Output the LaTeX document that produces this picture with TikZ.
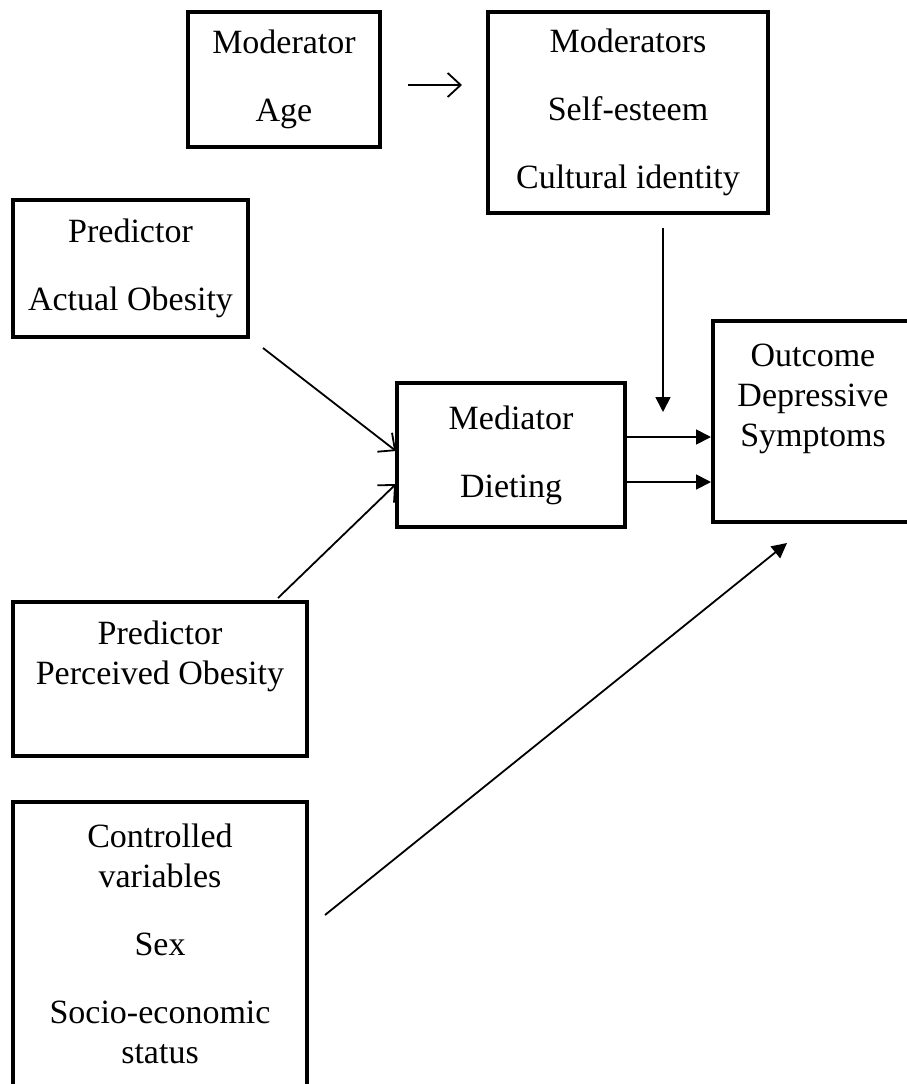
\documentclass[tikz,border=0pt]{standalone}
\usepackage{fontspec}
\setmainfont{Liberation Serif}
\usetikzlibrary{arrows.meta}
\begin{document}
\begin{tikzpicture}[x=1pt, y=-1pt, line join=miter, >={Triangle[length=15pt,width=15pt]},
	box/.style={draw, line width=4pt, align=center, inner sep=0pt, font=\fontsize{34}{40}\selectfont},
	link/.style={line width=1.8pt},
	barb/.style={line width=1.8pt, -{Straight Barb[length=13pt,width=24pt,line width=1.8pt]}}]
	\useasboundingbox (0,0) rectangle (907,1084);
	% Cac hop
	\node[box, minimum width=192pt, minimum height=135pt] (age) at (284,79.5) {Moderator\\[28pt]Age};
	\node[box, minimum width=280pt, minimum height=201pt] (mods) at (628,112.5) {Moderators\\[28pt]Self-esteem\\[28pt]Cultural identity};
	\node[box, minimum width=235pt, minimum height=137pt] (actual) at (130.5,268.5) {Predictor\\[28pt]Actual Obesity};
	\node[box, minimum width=228pt, minimum height=144pt] (med) at (511,455) {Mediator\\[28pt]Dieting};
	\node[box, minimum width=200pt, minimum height=201pt] (outcome) at (813,421.5) {Outcome\\Depressive\\Symptoms\\\strut};
	\node[box, minimum width=294pt, minimum height=154pt] (perceived) at (160,679) {Predictor\\Perceived Obesity\\\strut};
	\node[box, minimum width=294pt, minimum height=284pt] (controlled) at (160,944) {Controlled\\variables\\[28pt]Sex\\[28pt]Socio-economic\\status};
	% Dau mui ten
	\coordinate (A1) at (408,85);
	\coordinate (A2) at (462,85);
	\coordinate (V1) at (663,228);
	\coordinate (V2) at (663,412);
	\coordinate (P1) at (263,348);
	\coordinate (P2) at (278,598);
	\coordinate (M1) at (396,451);
	\coordinate (M2) at (396,484);
	\coordinate (C1) at (325,915);
	\coordinate (C2) at (787,543);
	% Mui ten
	\draw[barb, line width=1.5pt] (A1)--(A2);
	\draw[link, ->] (V1)--(V2);
	\draw[barb] (P1)--(M1);
	\draw[barb] (P2)--(M2);
	\draw[link, ->] ([yshift=18pt]med.east)--([yshift=18pt]med.east -| outcome.west);
	\draw[link, ->] ([yshift=-27pt]med.east)--([yshift=-27pt]med.east -| outcome.west);
	\draw[link, ->] (C1)--(C2);
\end{tikzpicture}
\end{document}
